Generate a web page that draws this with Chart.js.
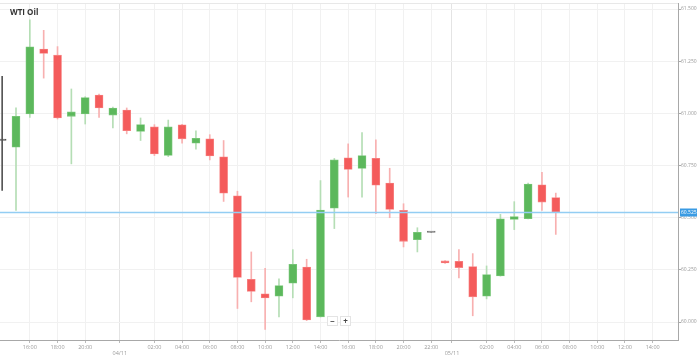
<!DOCTYPE html>
<html><head><meta charset="utf-8">
<script src="https://cdn.jsdelivr.net/npm/chart.js@4/dist/chart.umd.min.js"></script>
<style>
html,body{margin:0;padding:0;background:#fff;}
#wrap{position:relative;width:699px;height:358px;overflow:hidden;}
canvas{display:block;}
.zb{position:absolute;top:316px;width:11px;height:10px;background:#fff;border:1px solid #e4e4e4;box-sizing:border-box;font:bold 8px/8px "Open Sans",sans-serif;color:#444;text-align:center;}
</style></head><body>
<div id="wrap"><canvas id="c" width="699" height="358"></canvas>
<div class="zb" style="left:327px">−</div><div class="zb" style="left:340px">+</div></div>
<script>
const titleText = 'WTI Oil';
const candleIndex = [-1,0,1,2,3,4,5,6,7,8,9,10,11,12,13,14,15,16,17,18,19,20,21,22,23,24,25,26,27,28,29,30,31,32,33,34,35,36,37,38,39];
const opens  = [60.870,60.838,60.997,61.308,61.279,60.986,60.997,61.088,60.992,61.016,60.913,60.936,60.798,60.945,60.857,60.878,60.792,60.605,60.205,60.135,60.124,60.186,60.264,60.025,60.546,60.787,60.736,60.785,60.666,60.535,60.395,60.429,60.293,60.291,60.266,60.124,60.221,60.492,60.495,60.658,60.597];
const closes = [60.870,60.986,61.319,61.287,60.978,61.007,61.076,61.026,61.026,60.917,60.946,60.806,60.936,60.878,60.881,60.796,60.618,60.214,60.147,60.116,60.175,60.277,60.010,60.537,60.778,60.731,60.798,60.656,60.540,60.387,60.430,60.429,60.283,60.261,60.121,60.228,60.495,60.506,60.661,60.575,60.527];
const highs  = [61.177,61.027,61.448,61.398,61.320,61.117,61.080,61.092,61.030,61.026,60.978,60.946,60.968,60.948,60.917,60.898,60.870,60.627,60.336,60.257,60.207,60.347,60.301,60.678,60.784,60.854,60.908,60.873,60.737,60.567,60.452,60.429,60.295,60.347,60.328,60.269,60.516,60.577,60.666,60.717,60.618];
const lows   = [60.631,60.535,60.981,61.169,60.973,60.758,60.949,60.981,60.930,60.902,60.870,60.798,60.793,60.857,60.828,60.777,60.578,60.065,60.097,59.965,60.025,60.116,60.007,60.024,60.448,60.599,60.599,60.519,60.500,60.360,60.336,60.429,60.281,60.212,60.030,60.111,60.220,60.443,60.494,60.535,60.420];
const currentPrice = 60.525;
const xTickPos    = [1,3,5,7.5,10,12,14,16,18,20,22,24,26,28,30,31.5,34,36,38,40,42,44,46];
const xTickLabels = ['16:00','18:00','20:00','04/11','02:00','04:00','06:00','08:00','10:00','12:00','14:00','16:00','18:00','20:00','22:00','05/11','02:00','04:00','06:00','08:00','10:00','12:00','14:00'];
const yTicks = [60.0,60.25,60.5,60.75,61.0,61.25,61.5];
const xMin = -1.156, xMax = 47.83, yMin = 59.914, yMax = 61.529;

function dir(i){ return closes[i] > opens[i] ? 1 : (closes[i] < opens[i] ? -1 : 0); }
function bodyColor(i){ const d=dir(i); if(candleIndex[i]<0) return '#555'; return d>0?'#5cb85c':(d<0?'#f45b5b':'#777'); }
function bodyBorder(i){ const d=dir(i); if(candleIndex[i]<0) return '#555'; return d>0?'#7cc87c':(d<0?'#f78585':'#777'); }
function wickColor(i){ const d=dir(i); if(candleIndex[i]<0) return '#555'; return d>0?'#b5deb5':(d<0?'#f8b0b0':'#888'); }

const overlay = {
  id:'overlay',
  afterDraw(chart){
    const {ctx, chartArea:a, scales:{y}} = chart;
    ctx.save();
    ctx.strokeStyle='#e8e8e8'; ctx.lineWidth=1;
    ctx.beginPath(); ctx.moveTo(a.left, a.top+0.5); ctx.lineTo(a.right, a.top+0.5); ctx.stroke();
    ctx.fillStyle='#333'; ctx.font='bold 8px "Open Sans", sans-serif';
    ctx.textAlign='left'; ctx.textBaseline='alphabetic';
    ctx.fillText(titleText, 10, 15);
    const py = y.getPixelForValue(currentPrice);
    ctx.fillStyle='#3a9be3'; ctx.fillRect(a.right+2, py-4, 17, 8);
    ctx.fillStyle='#fff'; ctx.font='5px "Open Sans", sans-serif'; ctx.textBaseline='middle';
    ctx.fillText(currentPrice.toFixed(3), a.right+3, py+0.5);
    ctx.restore();
  }
};

new Chart(document.getElementById('c'), {
  type:'bar',
  data:{
    datasets:[
      { type:'line', data:[{x:xMin,y:currentPrice},{x:xMax,y:currentPrice}], borderColor:'#93cdf3', borderWidth:1.6, pointRadius:0, order:-1 },
      { data:candleIndex.map((x,i)=>({x, y:[opens[i], closes[i]]})), barThickness:8, minBarLength:1.5,
        backgroundColor:c=>bodyColor(c.dataIndex), borderColor:c=>bodyBorder(c.dataIndex), borderWidth:0.8, borderSkipped:false, order:0 },
      { data:candleIndex.map((x,i)=>({x, y:[lows[i], highs[i]]})), barThickness:1,
        backgroundColor:c=>wickColor(c.dataIndex), borderWidth:0, order:1 }
    ]
  },
  options:{
    responsive:false, animation:false, devicePixelRatio:1,
    layout:{padding:{top:2,left:0,right:0,bottom:0}},
    datasets:{bar:{grouped:false}},
    plugins:{legend:{display:false}, tooltip:{enabled:false}, title:{display:false}},
    scales:{
      x:{ type:'linear', min:xMin, max:xMax, offset:false,
        afterBuildTicks:s=>{ s.ticks = xTickPos.map(v=>({value:v})); },
        afterFit:s=>{ s.height = 18; },
        grid:{ offset:false, color:c=>(c.tick && xTickLabels[xTickPos.indexOf(c.tick.value)]||'').includes('/')?'#e4e4e4':'#f1f1f1', tickLength:3, tickColor:'#bbb' },
        border:{ display:true, color:'#a8a8a8', width:1 },
        ticks:{ autoSkip:false, maxRotation:0, padding:1, color:'#999', font:{size:5.5, family:'"Open Sans", sans-serif'},
          callback:(v)=>{ const l = xTickLabels[xTickPos.indexOf(v)] || ''; return l.includes('/') ? ['', l] : l; } }
      },
      y:{ type:'linear', position:'right', min:yMin, max:yMax,
        afterBuildTicks:s=>{ s.ticks = yTicks.map(v=>({value:v})); },
        afterFit:s=>{ s.width = 21; },
        grid:{ color:'#f1f1f1', tickLength:3, tickColor:'#aaa' },
        border:{ display:true, color:'#a8a8a8', width:1 },
        ticks:{ padding:0, color:'#999', font:{size:5, family:'"Open Sans", sans-serif'}, callback:v=>v.toFixed(3) }
      }
    }
  },
  plugins:[overlay]
});
</script>
</body></html>
